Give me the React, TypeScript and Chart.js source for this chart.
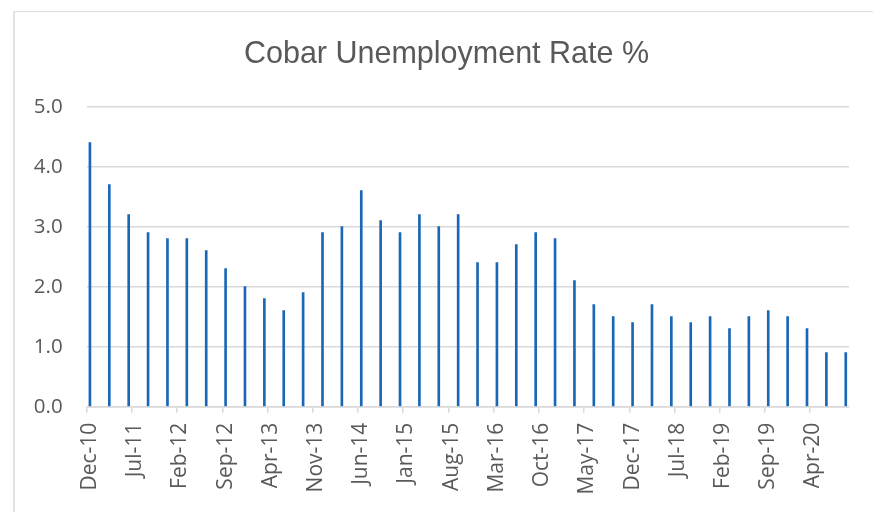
import React, { useEffect, useRef } from "react";
import { Chart, registerables } from "chart.js";

Chart.register(...registerables);

// Quarterly observation months
const quarters = [
  "Dec-10", "Mar-11", "Jun-11", "Sep-11", "Dec-11", "Mar-12", "Jun-12", "Sep-12",
  "Dec-12", "Mar-13", "Jun-13", "Sep-13", "Dec-13", "Mar-14", "Jun-14", "Sep-14",
  "Dec-14", "Mar-15", "Jun-15", "Sep-15", "Dec-15", "Mar-16", "Jun-16", "Sep-16",
  "Dec-16", "Mar-17", "Jun-17", "Sep-17", "Dec-17", "Mar-18", "Jun-18", "Sep-18",
  "Dec-18", "Mar-19", "Jun-19", "Sep-19", "Dec-19", "Mar-20", "Jun-20", "Sep-20",
];

// Unemployment rate %
const rates = [
  4.4, 3.7, 3.2, 2.9, 2.8, 2.8, 2.6, 2.3, 2.0, 1.8, 1.6, 1.9, 2.9, 3.0, 3.6, 3.1,
  2.9, 3.2, 3.0, 3.2, 2.4, 2.4, 2.7, 2.9, 2.8, 2.1, 1.7, 1.5, 1.4, 1.7, 1.5, 1.4,
  1.5, 1.3, 1.5, 1.6, 1.5, 1.3, 0.9, 0.9,
];

// Labelled ticks on the date axis (every 7 months)
const tickLabels = [
  "Dec-10", "Jul-11", "Feb-12", "Sep-12", "Apr-13", "Nov-13", "Jun-14", "Jan-15",
  "Aug-15", "Mar-16", "Oct-16", "May-17", "Dec-17", "Jul-18", "Feb-19", "Sep-19", "Apr-20",
];

const monthNames = ["Jan", "Feb", "Mar", "Apr", "May", "Jun", "Jul", "Aug", "Sep", "Oct", "Nov", "Dec"];

function buildMonths(): string[] {
  const out: string[] = [];
  let y = 2010;
  let m = 11;
  while (true) {
    const lab = monthNames[m] + "-" + String(y % 100).padStart(2, "0");
    out.push(lab);
    if (lab === quarters[quarters.length - 1]) break;
    m++;
    if (m > 11) { m = 0; y++; }
  }
  return out;
}

// Shift the title so it is centred on the outer frame rather than the layout box
const titleShift = {
  id: "titleShift",
  afterLayout(chart: any) {
    const t = chart.titleBlock;
    if (t) {
      t.left += 22;
      t.right += 22;
    }
  },
};

export default function App() {
  const ref = useRef<HTMLCanvasElement | null>(null);

  useEffect(() => {
    const months = buildMonths();
    const data = months.map((lab) => {
      const i = quarters.indexOf(lab);
      return i >= 0 ? rates[i] : null;
    });
    const tickSet = new Set(tickLabels);
    const textColor = "#595959";

    const chart = new Chart(ref.current as HTMLCanvasElement, {
      type: "bar",
      data: {
        labels: months,
        datasets: [
          {
            data,
            backgroundColor: "#1b67b7",
            borderWidth: 0,
            barThickness: 2,
          },
        ],
      },
      plugins: [titleShift],
      options: {
        animation: false,
        responsive: false,
        devicePixelRatio: 1,
        events: [],
        layout: { padding: { left: 0, right: 24, top: 0, bottom: 0 } },
        plugins: {
          legend: { display: false },
          tooltip: { enabled: false },
          title: {
            display: true,
            text: "Cobar Unemployment Rate %",
            color: textColor,
            font: { family: "'Liberation Sans', Arial, sans-serif", size: 30.5, weight: "normal" },
            padding: { top: 36.3, bottom: 33.8 },
          },
        },
        scales: {
          x: {
            type: "category",
            offset: true,
            grid: {
              offset: true,
              drawOnChartArea: false,
              tickLength: 6,
              lineWidth: 1.5,
              tickColor: (ctx: any) =>
                typeof ctx.index === "number" && tickSet.has(months[ctx.index]) ? "#d9d9d9" : "rgba(0,0,0,0)",
            },
            border: { display: true, color: "#d9d9d9", width: 1.5 },
            ticks: {
              autoSkip: false,
              maxRotation: 90,
              minRotation: 90,
              padding: 10,
              color: textColor,
              font: { family: "'Open Sans', sans-serif", size: 21 },
              callback: (_v: any, i: number) => (tickSet.has(months[i]) ? months[i] : ""),
            },
            afterFit: (scale: any) => {
              scale.height = 105.3;
              scale.paddingLeft = 0;
              scale.paddingRight = 0;
            },
          },
          y: {
            min: 0,
            max: 5,
            grid: { color: "#d9d9d9", lineWidth: 1.5, drawTicks: false },
            border: { display: false },
            ticks: {
              stepSize: 1,
              padding: 24,
              color: textColor,
              font: { family: "'Open Sans', sans-serif", size: 20.5 },
              callback: (v: any) => Number(v).toFixed(1),
            },
            afterFit: (scale: any) => {
              scale.width = 86.7;
            },
          },
        },
      },
    });
    return () => chart.destroy();
  }, []);

  return (
    <div style={{ position: "fixed", left: 0, top: 0, width: 873, height: 512, overflow: "hidden", background: "#fff" }}>
      <div
        style={{
          position: "absolute",
          left: 13,
          top: 11,
          width: 900,
          height: 600,
          borderLeft: "2px solid #e2e2e2",
          borderTop: "1px solid #e0e0e0",
        }}
      />
      <canvas ref={ref} width={873} height={512} style={{ position: "absolute", left: 0, top: 0, width: 873, height: 512 }} />
    </div>
  );
}
